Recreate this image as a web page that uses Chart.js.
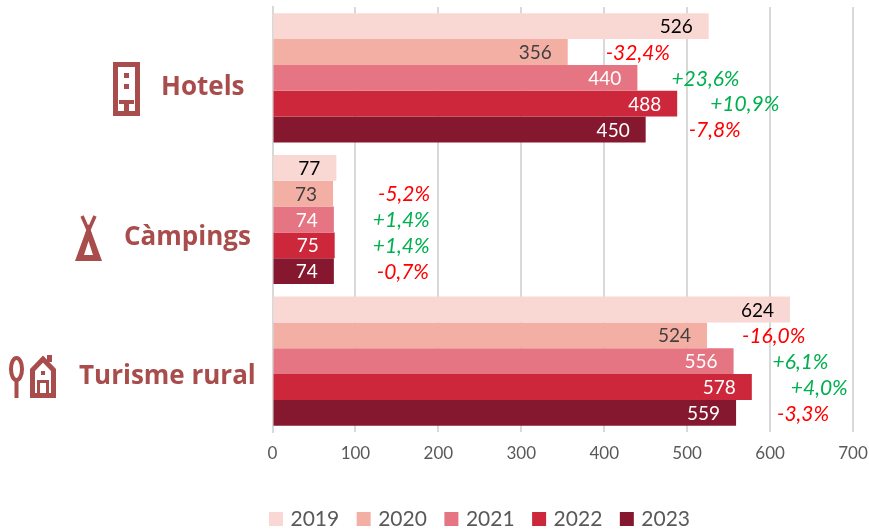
<!DOCTYPE html>
<html><head><meta charset="utf-8">
<style>html,body{margin:0;padding:0;background:#fff}canvas{display:block}</style>
<script src="https://cdn.jsdelivr.net/npm/chart.js@4"></script></head>
<body><canvas id="c" width="869" height="529"></canvas>
<script>
const categories = ['Hotels', 'Càmpings', 'Turisme rural'];
const years = ['2019', '2020', '2021', '2022', '2023'];
const values2019 = [526, 77, 624];
const values2020 = [356, 73, 524];
const values2021 = [440, 74, 556];
const values2022 = [488, 75, 578];
const values2023 = [450, 74, 559];
const change2020 = [-32.4, -5.2, -16.0];
const change2021 = [23.6, 1.4, 6.1];
const change2022 = [10.9, 1.4, 4.0];
const change2023 = [-7.8, -0.7, -3.3];
const xTicks = [0, 100, 200, 300, 400, 500, 600, 700];

const seriesValues = [values2019, values2020, values2021, values2022, values2023];
const seriesChanges = [null, change2020, change2021, change2022, change2023];
const barColors = ['#f9d8d3', '#f4afa5', '#e57583', '#cc273b', '#85182f'];
const labelColors = ['#000000', '#404040', '#ffffff', '#ffffff', '#ffffff'];
const changeGaps = [[38, 34, 33, 43], [45, 39, 38, 43], [35, 39, 39, 41]];
const catLabelStyle = [[161, 95], [124, 245], [79, 384]];
const iconColor = '#a84c4c';

function fmtChange(v) {
  return (v > 0 ? '+' : '-') + Math.abs(v).toFixed(1).replace('.', ',') + '%';
}

const annotate = {
  id: 'annotate',
  afterDatasetsDraw(chart) {
    const c = chart.ctx;
    c.save();
    c.textBaseline = 'middle';
    seriesValues.forEach((vals, s) => {
      const meta = chart.getDatasetMeta(s);
      vals.forEach((v, i) => {
        const bar = meta.data[i];
        c.font = '19px Lato';
        c.textAlign = 'right';
        c.fillStyle = labelColors[s];
        c.fillText(String(v), bar.x - 16, bar.y + 1);
        const ch = seriesChanges[s];
        if (ch) {
          c.font = 'italic 21px Lato';
          c.textAlign = 'left';
          c.fillStyle = ch[i] < 0 ? '#ff0000' : '#00b050';
          c.fillText(fmtChange(ch[i]), bar.x + changeGaps[i][s - 1], bar.y + 1);
        }
      });
    });
    c.textBaseline = 'alphabetic';
    c.textAlign = 'left';
    c.fillStyle = iconColor;
    c.font = '700 26px "Open Sans"';
    categories.forEach((t, i) => c.fillText(t, catLabelStyle[i][0], catLabelStyle[i][1]));
    drawIcons(c);
    c.restore();
  }
};

function drawIcons(c) {
  c.strokeStyle = iconColor;
  c.fillStyle = iconColor;
  c.lineJoin = 'miter';
  // hotel
  c.lineWidth = 5;
  c.strokeRect(115.5, 64.5, 22, 49);
  c.fillRect(124, 73, 5, 5);
  c.fillRect(124, 84, 5, 5);
  c.fillRect(119, 100, 15, 4);
  c.fillRect(124, 100, 5, 14);
  // tipi
  c.beginPath();
  c.moveTo(75, 261); c.lineTo(102, 261); c.lineTo(88.5, 224); c.closePath();
  c.moveTo(84, 255); c.lineTo(93, 255); c.lineTo(88.5, 241); c.closePath();
  c.fill('evenodd');
  c.lineWidth = 3.5;
  c.beginPath();
  c.moveTo(82, 216); c.lineTo(90, 234);
  c.moveTo(95, 216); c.lineTo(87, 234);
  c.stroke();
  // spoon
  c.lineWidth = 4;
  c.beginPath();
  c.ellipse(16.5, 369, 5.5, 11, 0, 0, Math.PI * 2);
  c.stroke();
  c.fillRect(14.5, 380, 4, 18);
  // rural house
  c.lineWidth = 5;
  c.beginPath();
  c.moveTo(32.5, 395.5); c.lineTo(32.5, 370); c.lineTo(43, 359); c.lineTo(53.5, 370); c.lineTo(53.5, 395.5); c.closePath();
  c.stroke();
  c.fillRect(47, 355, 5, 7);
  c.fillRect(41, 371, 4, 4);
  c.fillRect(37, 380, 12, 3);
  c.fillRect(37, 380, 3, 16);
  c.fillRect(46, 380, 3, 16);
}

new Chart(document.getElementById('c'), {
  type: 'bar',
  data: {
    labels: categories,
    datasets: years.map((y, s) => ({
      label: y,
      data: seriesValues[s],
      backgroundColor: barColors[s],
      borderWidth: 0,
      categoryPercentage: 0.912,
      barPercentage: 1
    }))
  },
  plugins: [annotate],
  options: {
    indexAxis: 'y',
    responsive: false,
    animation: false,
    layout: { padding: { left: 109, right: 16, top: 7, bottom: -10.5 } },
    plugins: {
      tooltip: { enabled: false },
      legend: {
        position: 'bottom',
        labels: {
          boxWidth: 8, boxHeight: 8, padding: 20.5,
          color: '#595959',
          font: { family: 'Lato', size: 21 },
          generateLabels(chart) {
            return years.map((y, s) => ({
              text: y, datasetIndex: s,
              fillStyle: barColors[s], strokeStyle: barColors[s],
              lineWidth: 6, fontColor: '#595959'
            }));
          }
        }
      }
    },
    scales: {
      x: {
        min: 0, max: 700,
        afterBuildTicks(a) { a.ticks = xTicks.map(v => ({ value: v })); },
        grid: { color: '#d9d9d9', lineWidth: 2, drawTicks: false },
        border: { display: false },
        ticks: { color: '#595959', font: { family: 'Lato', size: 17 }, padding: 11.5, maxRotation: 0 },
        afterFit(a) { a.height = 56; a.paddingRight = 0; a.paddingLeft = 0; }
      },
      y: {
        grid: { display: false },
        border: { color: '#d9d9d9', width: 2 },
        ticks: { display: false },
        afterFit(a) { a.width = 163.5; }
      }
    }
  }
});
</script></body></html>
